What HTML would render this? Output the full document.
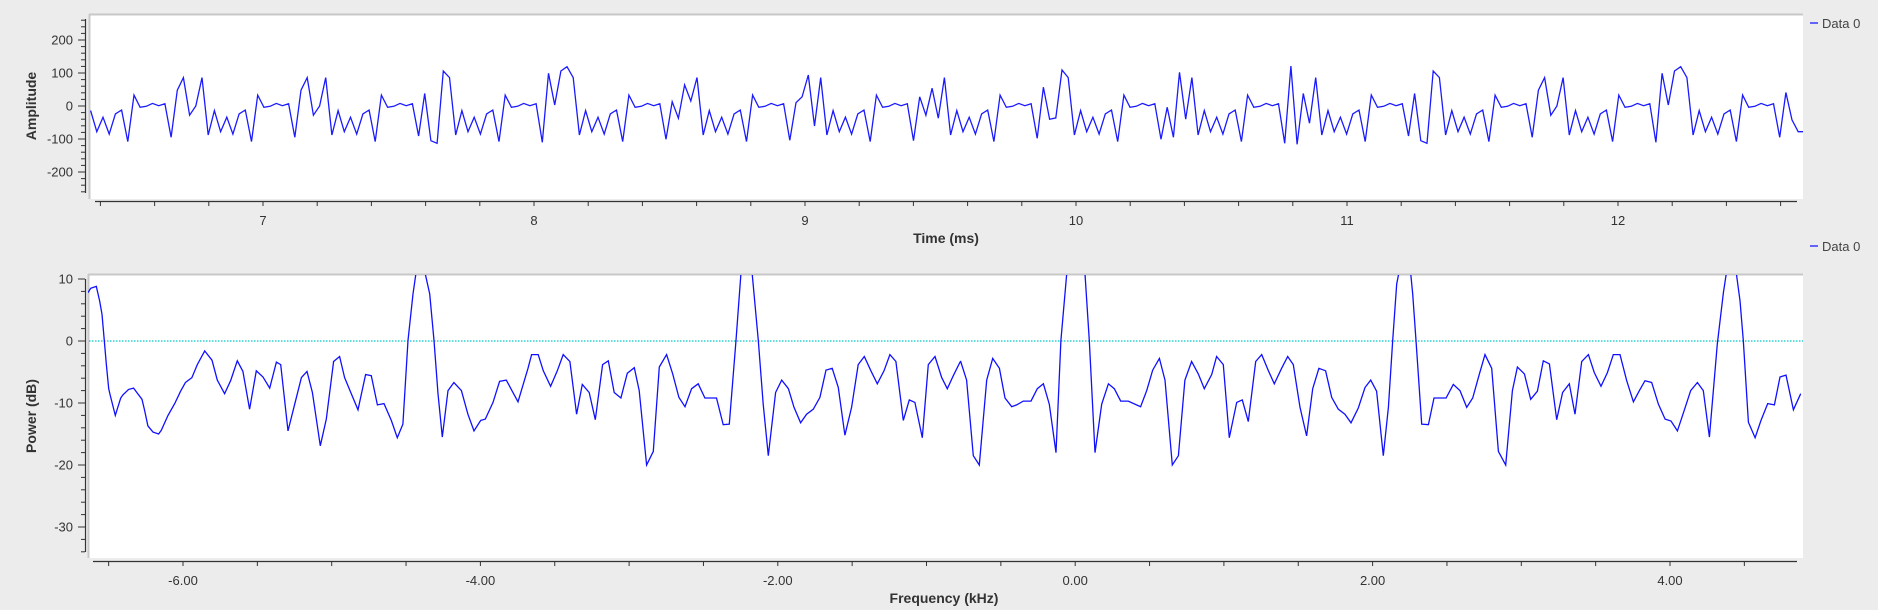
<!DOCTYPE html>
<html><head><meta charset="utf-8">
<style>
html,body{margin:0;padding:0;background:#ececec;}
svg{display:block;font-family:"Liberation Sans","DejaVu Sans",sans-serif;}
</style></head>
<body>
<svg id="chart" width="1878" height="610" viewBox="0 0 1878 610" xmlns="http://www.w3.org/2000/svg">
<defs>
<clipPath id="clipTop"><rect x="89" y="15" width="1714" height="184"/></clipPath>
<clipPath id="clipBot"><rect x="88" y="275" width="1715" height="283"/></clipPath>
</defs>
<g id="topPlot">
<rect x="89" y="14" width="1714" height="185" fill="#fff"/>
<line x1="89" y1="14.5" x2="1803" y2="14.5" stroke="#c8c8c8" stroke-width="2"/>
<line x1="89.5" y1="14" x2="89.5" y2="199" stroke="#c8c8c8" stroke-width="2"/>
<g id="topAxes"></g>
<path id="topLine" fill="none" stroke="#1a1aff" stroke-width="1.3" clip-path="url(#clipTop)"/>
<text transform="translate(36,106) rotate(-90)" text-anchor="middle" font-size="14" font-weight="bold" fill="#333">Amplitude</text>
<text x="946" y="243" text-anchor="middle" font-size="14" font-weight="bold" fill="#333">Time (ms)</text>
<g><line x1="1810" y1="23" x2="1818" y2="23" stroke="#1a1aff" stroke-width="1.3"/><text x="1822" y="28" font-size="13" fill="#444">Data 0</text></g>
</g>
<g id="botPlot">
<rect x="88" y="274" width="1715" height="284" fill="#fff"/>
<line x1="88" y1="274.5" x2="1803" y2="274.5" stroke="#c8c8c8" stroke-width="2"/>
<line x1="88.5" y1="274" x2="88.5" y2="558" stroke="#c8c8c8" stroke-width="2"/>
<g id="botAxes"></g>
<line id="zeroLine" stroke="#00c8c8" stroke-width="1.2" stroke-dasharray="1.5,1.5"/>
<path id="botLine" fill="none" stroke="#1010ff" stroke-width="1.3" clip-path="url(#clipBot)"/>
<text transform="translate(36,416) rotate(-90)" text-anchor="middle" font-size="14" font-weight="bold" fill="#333">Power (dB)</text>
<text x="944" y="603" text-anchor="middle" font-size="14" font-weight="bold" fill="#333">Frequency (kHz)</text>
<g><line x1="1810" y1="246" x2="1818" y2="246" stroke="#1a1aff" stroke-width="1.3"/><text x="1822" y="251" font-size="13" fill="#444">Data 0</text></g>
</g>
</svg>
<script>
// ---- time-domain data ----
const timeStart = 6.364;
const timeStep = 0.02283;
const amplitude = [
-14,-78,-34,-85,-24,-12,-108,33,-4,-1,8,1,7, -95,48,86,-28,0,86,
-88,-14,-78,-34,-85,-24,-12,-108,33,-4,-1,8,1,7, -95,48,86,-28,0,86,
-88,-14,-78,-34,-85,-24,-12,-108,33,-4,-1,8,1,7, -91,38,-105,-113,106,86,
-88,-14,-78,-34,-85,-24,-12,-108,33,-4,-1,8,1,7, -110,99,3,106,119,86,
-88,-14,-78,-34,-85,-24,-12,-108,33,-4,-1,8,1,7, -101,13,-37,64,15,86,
-88,-14,-78,-34,-85,-24,-12,-108,33,-4,-1,8,1,7, -104,10,28,94,-61,86,
-88,-14,-78,-34,-85,-24,-12,-108,33,-4,-1,8,1,7, -105,28,-28,54,-37,86,
-88,-14,-78,-34,-85,-24,-12,-108,33,-4,-1,8,1,7, -98,57,-40,-36,109,86,
-88,-14,-78,-34,-85,-24,-12,-108,33,-4,-1,8,1,7, -101,-4,-95,102,-40,86,
-88,-14,-78,-34,-85,-24,-12,-108,33,-4,-1,8,1,7, -113,121,-116,38,-52,86,
-88,-14,-78,-34,-85,-24,-12,-108,33,-4,-1,8,1,7, -91,38,-105,-113,106,86,
-88,-14,-78,-34,-85,-24,-12,-108,33,-4,-1,8,1,7, -95,48,86,-28,0,86,
-88,-14,-78,-34,-85,-24,-12,-108,33,-4,-1,8,1,7, -110,99,3,106,119,86,
-88,-14,-78,-34,-85,-24,-12,-108,33,-4,-1,8,1,7, -95,41,-42,-78,-78
];
const ampTicks = [200,100,0,-100,-200];
const timeTicks = [7,8,9,10,11,12];
// ---- spectrum data ----
const freqKHz = [
-6.639,-6.621,-6.583,-6.561,-6.545,-6.527,-6.516,-6.500,-6.489,-6.455,-6.419,-6.404,-6.366,-6.332,-6.307,-6.276,-6.258,-6.236,-6.202,-6.164,-6.146,-6.101,-6.056,-6.016,-5.984,-5.940,-5.904,-5.854,-5.805,-5.769,-5.720,-5.680,-5.635,-5.597,-5.552,-5.507,-5.462,-5.417,-5.372,-5.343,-5.294,-5.249,-5.204,-5.166,-5.130,-5.077,-5.036,-4.987,-4.947,-4.913,-4.868,-4.823,-4.772,-4.734,-4.693,-4.648,-4.599,-4.559,-4.521,-4.487,-4.453,-4.431,-4.375,-4.341,-4.312,-4.285,-4.256,-4.218,-4.178,-4.128,-4.084,-4.043,-3.998,-3.967,-3.915,-3.871,-3.826,-3.788,-3.747,-3.680,
-3.656,-3.611,-3.577,-3.528,-3.483,-3.443,-3.398,-3.353,-3.315,-3.268,-3.227,-3.178,-3.140,-3.100,-3.055,-3.012,-2.965,-2.932,-2.882,-2.837,-2.797,-2.748,-2.707,-2.665,-2.624,-2.580,-2.535,-2.490,-2.412,-2.367,-2.326,-2.281,-2.248,-2.232,-2.187,-2.172,-2.131,-2.098,-2.064,-2.015,-1.974,-1.929,-1.891,-1.847,-1.806,-1.761,-1.717,-1.676,-1.634,-1.593,-1.549,-1.504,-1.459,-1.418,-1.374,-1.331,-1.286,-1.246,-1.206,-1.156,-1.116,-1.078,-1.028,-0.988,-0.943,-0.898,-0.860,-0.820,-0.775,
-0.770,-0.730,-0.685,-0.645,-0.595,-0.555,-0.510,-0.472,-0.427,-0.394,-0.349,-0.297,-0.255,-0.214,-0.174,-0.129,-0.096,-0.057,-0.035,0.043,0.066,0.095,0.133,0.178,0.223,0.263,0.306,0.357,0.440,0.481,0.521,0.566,0.604,0.653,0.694,0.738,0.783,0.828,0.868,0.918,0.951,0.996,1.036,1.086,1.124,1.164,1.214,1.254,1.299,1.339,1.388,1.429,1.467,1.512,1.556,1.597,1.639,1.684,1.725,1.769,1.814,1.855,1.904,1.949,1.987,2.027,2.072,
2.106,2.135,2.162,2.184,2.252,2.270,2.292,2.330,2.375,2.413,2.494,2.543,2.588,2.633,2.673,2.718,2.756,2.801,2.846,2.895,2.940,2.974,3.021,3.063,3.108,3.148,3.189,3.238,3.278,3.323,3.361,3.406,3.451,3.491,3.536,3.579,3.619,3.664,3.709,3.754,3.794,3.832,3.877,3.922,3.967,4.007,4.050,4.094,4.139,4.184,4.224,4.265,4.318,4.359,4.381,4.444,4.471,4.493,4.527,4.572,4.612,4.657,4.702,4.740,4.780,4.830,4.879
];
const powerDb = [
7.8,8.5,8.8,6.5,4.3,-0.5,-3.7,-7.7,-8.8,-12.0,-9.2,-8.7,-7.8,-7.6,-8.4,-9.4,-11.2,-13.7,-14.7,-15.0,-14.4,-12.0,-10.1,-8.1,-6.7,-5.9,-3.8,-1.6,-3.1,-6.3,-8.5,-6.4,-3.2,-4.9,-11.0,-4.8,-5.8,-7.6,-3.4,-3.8,-14.5,-10.2,-5.9,-4.9,-8.3,-16.9,-12.6,-3.3,-2.5,-5.9,-8.5,-11.1,-5.4,-5.6,-10.3,-10.1,-12.8,-15.6,-13.4,0.1,7.6,11.3,11.3,7.6,0.1,-8.5,-15.5,-8.0,-6.7,-8.0,-11.8,-14.5,-12.8,-12.6,-9.9,-6.5,-6.3,-8.0,-9.8,-4.4,
-2.2,-2.2,-4.8,-7.3,-4.8,-2.2,-3.3,-11.8,-7.0,-8.3,-12.7,-3.8,-3.2,-8.3,-9.2,-5.2,-4.3,-8.0,-20.0,-17.8,-4.2,-2.2,-5.3,-9.1,-10.6,-7.7,-6.9,-9.2,-9.2,-13.5,-13.4,0.1,10.8,11.9,11.9,10.8,0.1,-10.2,-18.5,-8.3,-6.3,-7.7,-10.7,-13.2,-11.8,-11.0,-9.1,-4.7,-4.4,-7.5,-15.2,-10.7,-3.8,-2.5,-4.8,-6.9,-4.8,-2.2,-3.3,-12.8,-9.5,-9.9,-15.6,-3.8,-2.5,-5.9,-7.7,-5.6,-3.4,
-3.3,-6.3,-18.5,-20.0,-6.3,-2.8,-4.4,-9.2,-10.6,-10.3,-9.7,-9.7,-7.7,-6.9,-10.2,-18.0,0.1,10.8,11.9,11.9,10.8,0.1,-18.0,-10.2,-6.9,-7.7,-9.7,-9.7,-10.6,-8.0,-4.7,-2.8,-6.3,-20.0,-18.5,-6.3,-3.3,-5.3,-7.7,-5.4,-2.5,-3.8,-15.6,-9.9,-9.5,-13.0,-3.3,-2.2,-4.8,-6.9,-4.4,-2.5,-3.8,-10.7,-15.3,-7.7,-4.4,-4.8,-9.1,-11.0,-11.8,-13.2,-10.8,-7.5,-6.3,-8.1,-18.5,
-10.7,0.1,9.2,11.9,11.9,7.6,0.1,-13.4,-13.5,-9.2,-9.2,-7.0,-8.0,-10.7,-9.2,-5.3,-2.2,-4.4,-17.8,-20.0,-8.0,-4.2,-5.3,-9.4,-8.1,-3.2,-3.7,-12.7,-8.3,-6.9,-11.8,-3.3,-2.2,-5.1,-7.3,-5.1,-2.2,-2.2,-6.4,-9.8,-8.0,-6.4,-6.7,-10.2,-12.6,-12.9,-14.5,-11.3,-8.0,-6.7,-8.0,-15.5,-0.5,7.8,11.3,11.3,6.5,0.1,-13.1,-15.6,-12.8,-10.1,-10.3,-5.8,-5.5,-11.1,-8.5
];
const dbTicks = [10,0,-10,-20,-30];
const freqTicks = [-6,-4,-2,0,2,4];
const freqTickLabels = ["-6.00","-4.00","-2.00","0.00","2.00","4.00"];

const NS = "http://www.w3.org/2000/svg";
function mk(parent, tag, attrs) {
  const e = document.createElementNS(NS, tag);
  for (const k in attrs) e.setAttribute(k, attrs[k]);
  parent.appendChild(e);
  return e;
}
// axis functions
const tX = t => 263 + (t - 7) * 271;
const aY = a => 106 - a * 0.33;
const fX = f => 183 + (f + 6) * 148.7;
const dY = d => 341 - d * 6.2;

// top axes
const ta = document.getElementById('topAxes');
mk(ta, 'line', {x1: 85.5, y1: 19, x2: 85.5, y2: 193, stroke: '#333', 'stroke-width': 1.2});
mk(ta, 'line', {x1: 95, y1: 201.5, x2: 1797, y2: 201.5, stroke: '#333', 'stroke-width': 1.2});
for (let v = -260; v <= 260; v += 20) {
  const y = aY(v);
  const tk = mk(ta, 'line', {x1: v % 100 === 0 ? 78 : 81, y1: y, x2: 85, y2: y, stroke: '#333', 'stroke-width': 1});
  
  
}
ampTicks.forEach(v => {
  const t = mk(ta, 'text', {x: 73, y: aY(v) + 4.5, 'text-anchor': 'end', 'font-size': 13, fill: '#333'});
  t.textContent = v;
  
  
});
for (let k = 0; k < 40; k++) {
  const t = 6.4 + k * 0.2;
  const x = tX(t);
  if (x < 95 || x > 1797) continue;
  const tk = mk(ta, 'line', {x1: x, y1: 201, x2: x, y2: 206, stroke: '#333', 'stroke-width': 1});
  
  
}
timeTicks.forEach(v => {
  const t = mk(ta, 'text', {x: tX(v), y: 225, 'text-anchor': 'middle', 'font-size': 13, fill: '#333'});
  t.textContent = v;
  
  
});
document.getElementById('topLine').setAttribute('d',
  amplitude.map((a, i) => (i ? 'L' : 'M') + tX(timeStart + i * timeStep).toFixed(1) + ',' + aY(a).toFixed(1)).join(''));

// bottom axes
const ba = document.getElementById('botAxes');
mk(ba, 'line', {x1: 85.5, y1: 279, x2: 85.5, y2: 552, stroke: '#333', 'stroke-width': 1.2});
mk(ba, 'line', {x1: 93, y1: 561.5, x2: 1797, y2: 561.5, stroke: '#333', 'stroke-width': 1.2});
for (let v = -34; v <= 10; v += 2) {
  const y = dY(v);
  const tk = mk(ba, 'line', {x1: v % 10 === 0 ? 78 : 81, y1: y, x2: 85, y2: y, stroke: '#333', 'stroke-width': 1});
  
  
}
dbTicks.forEach(v => {
  const t = mk(ba, 'text', {x: 73, y: dY(v) + 4.5, 'text-anchor': 'end', 'font-size': 13, fill: '#333'});
  t.textContent = v;
  
  
});
for (let k = 0; k < 30; k++) {
  const f = -6.5 + k * 0.5;
  const x = fX(f);
  if (x < 93 || x > 1797) continue;
  const tk = mk(ba, 'line', {x1: x, y1: 561, x2: x, y2: 566, stroke: '#333', 'stroke-width': 1});
  
  
}
freqTicks.forEach((v, i) => {
  const t = mk(ba, 'text', {x: fX(v), y: 585, 'text-anchor': 'middle', 'font-size': 13, fill: '#333'});
  t.textContent = freqTickLabels[i];
  
  
});
const zl = document.getElementById('zeroLine');
zl.setAttribute('x1', 89); zl.setAttribute('x2', 1803);
zl.setAttribute('y1', dY(0)); zl.setAttribute('y2', dY(0));
document.getElementById('botLine').setAttribute('d',
  freqKHz.map((f, i) => (i ? 'L' : 'M') + fX(f).toFixed(1) + ',' + dY(powerDb[i]).toFixed(1)).join(''));
</script>
</body></html>
